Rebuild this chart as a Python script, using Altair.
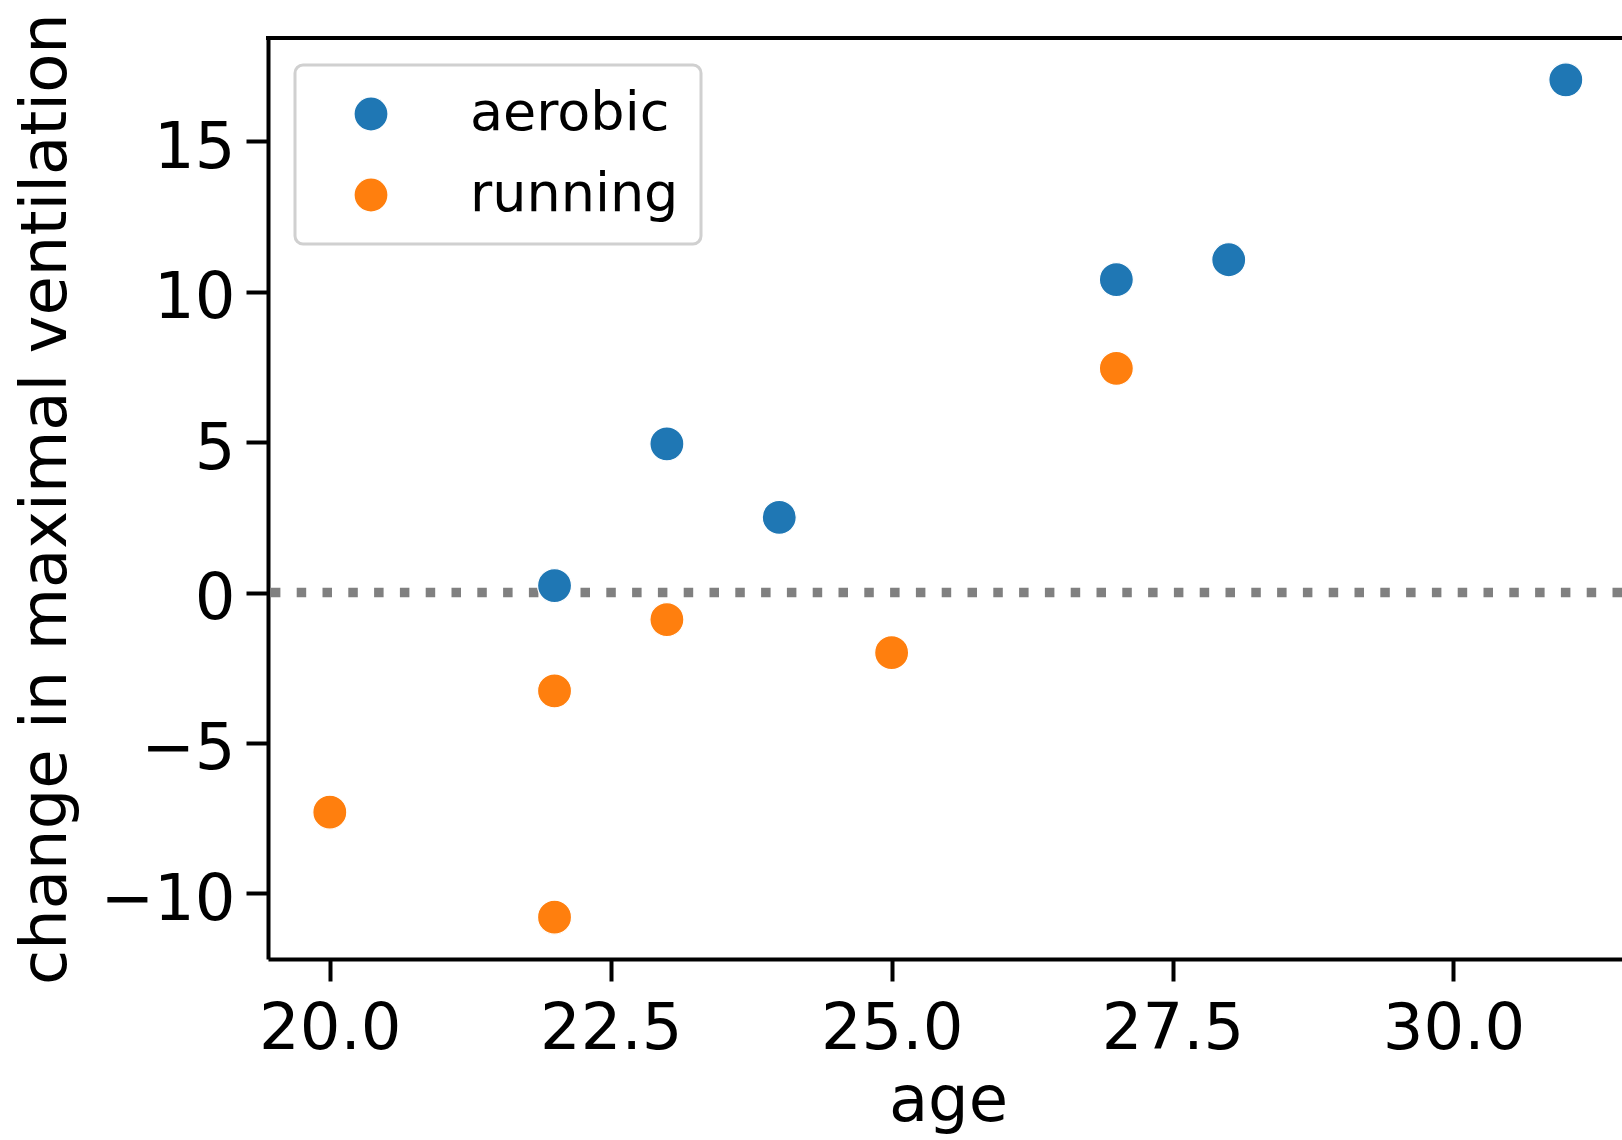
import altair as alt
import pandas as pd

# ---- data ----
ages_aerobic = [22, 23, 24, 27, 28, 31]
vent_aerobic = [0.23, 4.94, 2.50, 10.40, 11.06, 17.04]
ages_running = [20, 22, 22, 23, 25, 27]
vent_running = [-7.30, -3.27, -10.79, -0.90, -2.00, 7.45]
groups = ["aerobic", "running"]
colors = ["#1f77b4", "#ff7f0e"]
x_ticks = [20.0, 22.5, 25.0, 27.5, 30.0]
y_ticks = [-10, -5, 0, 5, 10, 15]

df = pd.DataFrame({
    "age": ages_aerobic + ages_running,
    "vent": vent_aerobic + vent_running,
    "group": [groups[0]] * len(ages_aerobic) + [groups[1]] * len(ages_running),
})

W, H = 1354, 921
FONT = "DejaVu Sans"
SYM = 1156

xscale = alt.Scale(domain=[19.45, 31.50], nice=False, zero=False)
yscale = alt.Scale(domain=[-12.18, 18.43], nice=False, zero=False)

zero_line = alt.Chart(pd.DataFrame({"v": [0]})).mark_rule(
    color="#808080", strokeWidth=9.5, strokeDash=[9.5, 16.3], strokeCap="butt"
).encode(y=alt.Y("v:Q", scale=yscale))

top_border = alt.Chart(pd.DataFrame({"v": [0]})).mark_rule(
    color="black", strokeWidth=4
).encode(x=alt.value(-2), x2=alt.value(W + 2), y=alt.value(0))

points = alt.Chart(df).mark_point(
    filled=True, shape="circle", size=SYM, opacity=1,
    stroke="white", strokeWidth=1.2
).encode(
    x=alt.X("age:Q", scale=xscale,
            axis=alt.Axis(values=x_ticks, format=".1f", title="age",
                          labelPadding=16, titleX=680, titleY=161,
                          titleBaseline="alphabetic", titleAlign="center")),
    y=alt.Y("vent:Q", scale=yscale,
            axis=alt.Axis(values=y_ticks, format="d",
                          title="change in maximal ventilation",
                          labelPadding=11, labelOffset=7,
                          titleX=-203, titleY=H / 2, titleAngle=-90,
                          titleBaseline="alphabetic", titleAlign="center")),
    color=alt.Color("group:N", scale=alt.Scale(domain=groups, range=colors),
                    legend=alt.Legend(orient="none", legendX=27, legendY=27,
                                      title=None, labelFontSize=54, labelFont=FONT,
                                      labelColor="black", labelLimit=500,
                                      symbolType="circle", symbolSize=SYM,
                                      symbolStrokeColor="white", symbolStrokeWidth=1.2,
                                      symbolOffset=27, labelOffset=72,
                                      rowPadding=27, padding=22,
                                      strokeColor="#d0d0d0", fillColor="white",
                                      cornerRadius=8)),
)

chart = alt.layer(zero_line, points, top_border).properties(
    width=W, height=H,
    autosize=alt.AutoSizeParams(type="none"),
    padding={"left": 268, "top": 38, "right": 0, "bottom": 181},
).configure_view(stroke=None).configure_axis(
    grid=False, domainColor="black", domainWidth=4, tickColor="black",
    tickWidth=4, tickSize=22, labelFont=FONT, labelFontSize=64,
    labelColor="black", titleFont=FONT, titleFontSize=64,
    titleFontWeight="normal", titleColor="black", labelFlush=False,
    labelOverlap=False,
).configure_legend(strokeWidth=3)

chart.save("out.html", embed_options={"renderer": "svg", "actions": False})
